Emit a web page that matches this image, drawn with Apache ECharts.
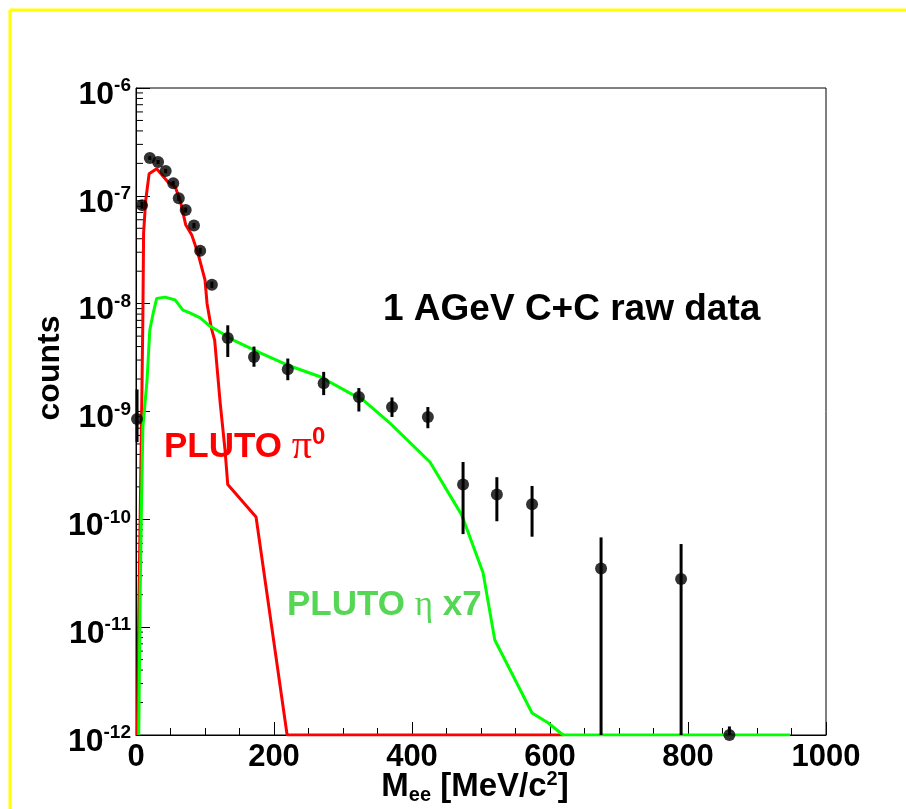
<!DOCTYPE html>
<html><head><meta charset="utf-8">
<script src="https://cdn.jsdelivr.net/npm/echarts@6/dist/echarts.min.js"></script>
<style>html,body{margin:0;padding:0;background:#fff}#c{width:906px;height:809px}</style>
</head><body><div id="c"></div>
<script>
// ---- data ----
const dataX = [1.5, 8.7, 20, 32, 43, 54, 62, 72, 84, 93, 110, 133, 171, 220, 272, 323, 371, 423, 474, 523, 574, 674, 790, 860];
const dataY = [8.5e-10, 8.2e-8, 2.24e-7, 2.06e-7, 1.70e-7, 1.31e-7, 9.5e-8, 7.4e-8, 5.3e-8, 3.1e-8, 1.5e-8, 4.8e-9, 3.2e-9, 2.47e-9, 1.83e-9, 1.36e-9, 1.10e-9, 8.9e-10, 2.1e-10, 1.7e-10, 1.38e-10, 3.5e-11, 2.8e-11, 1.0e-12];
const dataErrLow = [5.2e-10, 7.6e-8, 2.15e-7, 1.97e-7, 1.62e-7, 1.25e-7, 9.0e-8, 7.0e-8, 5.0e-8, 2.9e-8, 1.4e-8, 3.2e-9, 2.6e-9, 1.95e-9, 1.42e-9, 1.0e-9, 8.9e-10, 7.0e-10, 7.3e-11, 9.6e-11, 6.9e-11, 0, 0, 0];
const dataErrHigh = [1.6e-9, 8.8e-8, 2.33e-7, 2.15e-7, 1.78e-7, 1.37e-7, 1.0e-7, 7.8e-8, 5.6e-8, 3.3e-8, 1.6e-8, 6.3e-9, 4.0e-9, 3.1e-9, 2.33e-9, 1.65e-9, 1.35e-9, 1.1e-9, 3.4e-10, 2.46e-10, 2.04e-10, 6.8e-11, 5.9e-11, 1.2e-12];

const piX = [2, 4, 6, 8, 9, 10, 11, 14, 19, 30, 46, 57, 64, 72, 81, 90, 100, 103, 109, 114, 122, 129, 133, 174, 219, 620];
const piY = [1e-12, 1.4e-11, 1e-10, 8e-10, 2.5e-9, 8e-9, 4.5e-8, 9e-8, 1.6e-7, 1.78e-7, 1.35e-7, 1.2e-7, 9.1e-8, 5.4e-8, 4.3e-8, 2.9e-8, 1.66e-8, 1.0e-8, 6.0e-9, 4.6e-9, 1.2e-9, 4.4e-10, 2.1e-10, 1.05e-10, 1e-12, 1e-12];

const etaX = [4, 6, 8, 10, 16, 20, 25, 30, 42, 57, 68, 78, 93, 107, 141, 180, 219, 267, 310, 329, 368, 426, 472, 503, 520, 545, 574, 597, 619, 948];
const etaY = [1e-12, 2e-11, 1.5e-10, 7.2e-10, 1.95e-9, 5.7e-9, 8.2e-9, 1.12e-8, 1.15e-8, 1.08e-8, 8.7e-9, 8.2e-9, 7.4e-9, 6.2e-9, 4.6e-9, 3.5e-9, 2.7e-9, 2.1e-9, 1.48e-9, 1.28e-9, 7.8e-10, 3.4e-10, 1.1e-10, 3.2e-11, 7.6e-12, 3.7e-12, 1.6e-12, 1.3e-12, 1e-12, 1e-12];

const yMinorMantissas = [2, 3, 4, 5, 6, 7, 8, 9];
const yDecades = [-12, -11, -10, -9, -8, -7];

const xTitle = ['M', 'ee', ' [MeV/c', '2', ']'];
const yTitle = 'counts';
const label1 = '1 AGeV C+C raw data';
const labelPi = ['PLUTO ', 'π', '0'];
const labelEta = ['PLUTO ', 'η', ' x7'];

// ---- chart ----
const FONT = 'Liberation Sans, Arial, sans-serif';
const SERIF = 'Liberation Serif, serif';
const YMIN = 1e-12, YMAX = 1e-6;
const chart = echarts.init(document.getElementById('c'), null, {renderer: 'canvas'});

const pointData = dataX.map((x, i) => [x, dataY[i]]);
const errData = dataX.map((x, i) => [x, Math.max(dataErrLow[i], YMIN), Math.min(dataErrHigh[i], YMAX)]);
const piData = piX.map((x, i) => [x, Math.max(piY[i], YMIN)]);
const etaData = etaX.map((x, i) => [x, Math.max(etaY[i], YMIN)]);
const minorData = [];
yDecades.forEach(e => yMinorMantissas.forEach(m => minorData.push([0, m * Math.pow(10, e)])));

const option = {
  backgroundColor: '#fff',
  animation: false,
  grid: {left: 136, top: 88, width: 690, height: 647, show: true, borderColor: '#000', borderWidth: 1, backgroundColor: 'transparent', containLabel: false, outerBoundsMode: 'none'},
  xAxis: {
    type: 'value', min: 0, max: 1000, interval: 200,
    axisLine: {show: true, onZero: false, lineStyle: {color: '#000', width: 1}},
    axisTick: {show: true, inside: true, length: 13, lineStyle: {color: '#000', width: 1}},
    minorTick: {show: true, splitNumber: 4, length: 7, lineStyle: {color: '#000', width: 1}},
    splitLine: {show: false},
    axisLabel: {color: '#000', fontFamily: FONT, fontWeight: 'bold', fontSize: 31, margin: 7, formatter: v => String(v)}
  },
  yAxis: {
    type: 'log', logBase: 10, min: YMIN, max: YMAX, splitNumber: 6,
    axisLine: {show: true, lineStyle: {color: '#000', width: 1}},
    axisTick: {show: true, inside: true, length: 14, lineStyle: {color: '#000', width: 1}},
    minorTick: {show: false},
    splitLine: {show: false},
    axisLabel: {
      margin: 5,
      padding: [14, 0, 0, 0],
      formatter: v => '{b|10}{s|' + Math.round(Math.log10(v)) + '}',
      rich: {
        b: {fontFamily: FONT, fontWeight: 'bold', fontSize: 32, color: '#000'},
        s: {fontFamily: FONT, fontWeight: 'bold', fontSize: 19, color: '#000', padding: [0, 0, 18, 0]}
      }
    }
  },
  series: [
    {
      type: 'custom', name: 'yminor', silent: true, z: 1,
      data: minorData,
      renderItem: (params, api) => {
        const p = api.coord([api.value(0), api.value(1)]);
        return {type: 'line', shape: {x1: p[0], y1: p[1], x2: p[0] + 7, y2: p[1]}, style: {stroke: '#000', lineWidth: 1}};
      }
    },
    {
      type: 'line', name: 'PLUTO pi0', data: piData, showSymbol: false, symbol: 'none', z: 3,
      lineStyle: {color: '#ff0000', width: 3}, clip: true
    },
    {
      type: 'line', name: 'PLUTO eta x7', data: etaData, showSymbol: false, symbol: 'none', z: 3,
      lineStyle: {color: '#00ff00', width: 3}, clip: true
    },
    {
      type: 'custom', name: 'errors', z: 4,
      data: errData,
      renderItem: (params, api) => {
        const lo = api.coord([api.value(0), api.value(1)]);
        const hi = api.coord([api.value(0), api.value(2)]);
        return {type: 'line', shape: {x1: lo[0], y1: lo[1], x2: hi[0], y2: hi[1]}, style: {stroke: '#000', lineWidth: 3}};
      }
    },
    {
      type: 'scatter', name: 'data', data: pointData, symbol: 'circle', symbolSize: 12, z: 5,
      itemStyle: {color: '#000'}
    }
  ],
  graphic: [
    {type: 'line', shape: {x1: 10, y1: 10, x2: 906, y2: 10}, style: {stroke: '#ffff00', lineWidth: 3}, silent: true},
    {type: 'line', shape: {x1: 10, y1: 10, x2: 10, y2: 809}, style: {stroke: '#ffff00', lineWidth: 3}, silent: true},
    {type: 'text', left: 383, top: 291, style: {text: label1, font: 'bold 37px ' + FONT, fill: '#000'}},
    {type: 'text', left: 164, top: 425, style: {
      text: '{a|' + labelPi[0] + '}{p|' + labelPi[1] + '}{s|' + labelPi[2] + '}',
      rich: {
        a: {font: 'bold 35px ' + FONT, fill: '#ff0000'},
        p: {font: '40px ' + SERIF, fill: '#ff0000'},
        s: {font: 'bold 24px ' + FONT, fill: '#ff0000', padding: [0, 0, 20, 0]}
      }
    }},
    {type: 'text', left: 287, top: 588, style: {
      text: '{a|' + labelEta[0] + '}{p|' + labelEta[1] + '}{a|' + labelEta[2] + '}',
      rich: {
        a: {font: 'bold 35px ' + FONT, fill: '#55d655'},
        p: {font: '35px ' + SERIF, fill: '#55d655'}
      }
    }},
    {type: 'text', x: 50, y: 368, rotation: Math.PI / 2, style: {text: yTitle, font: 'bold 32px ' + FONT, fill: '#000', align: 'center', verticalAlign: 'middle'}},
    {type: 'text', x: 475, y: 787, style: {
      text: '{m|' + xTitle[0] + '}{sub|' + xTitle[1] + '}{m|' + xTitle[2] + '}{sup|' + xTitle[3] + '}{m|' + xTitle[4] + '}',
      align: 'center', verticalAlign: 'middle',
      rich: {
        m: {font: 'bold 33px ' + FONT, fill: '#000'},
        sub: {font: 'bold 20px ' + FONT, fill: '#000', padding: [16, 0, 0, 0]},
        sup: {font: 'bold 20px ' + FONT, fill: '#000', padding: [0, 0, 16, 0]}
      }
    }}
  ]
};
chart.setOption(option);
</script>
</body></html>
